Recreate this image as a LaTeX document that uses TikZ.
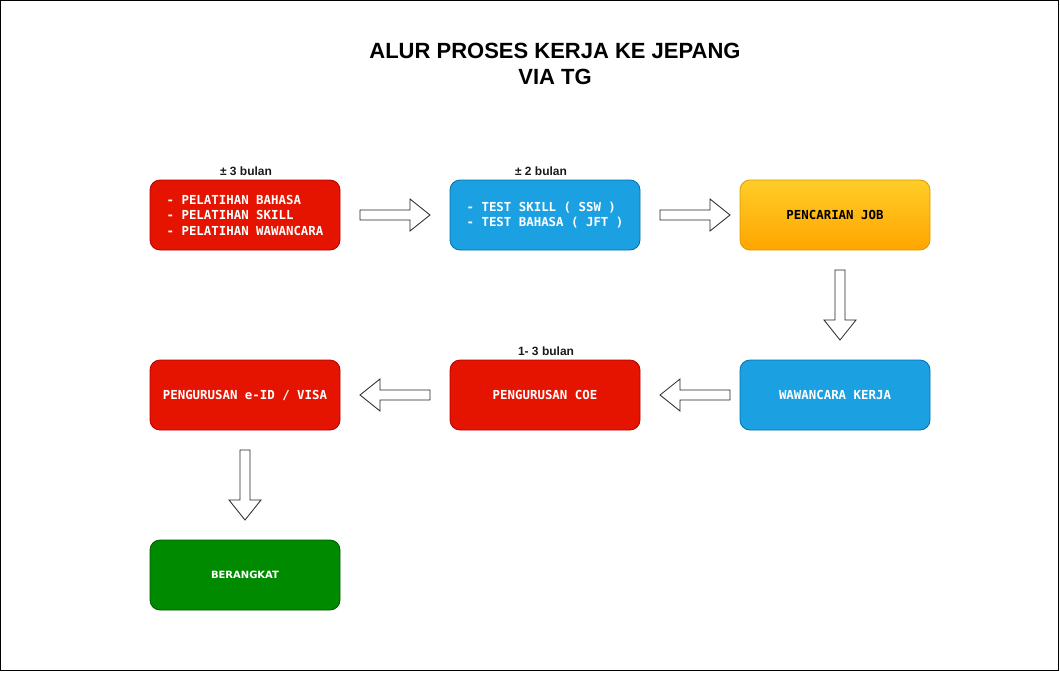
\documentclass[tikz,border=0pt]{standalone}
\usepackage{fontspec}
\setmainfont{Liberation Sans}
\newfontfamily\monob{DejaVu Sans Mono}
\newfontfamily\dvs{DejaVu Sans}
\usetikzlibrary{calc}
\definecolor{redf}{HTML}{E51400}
\definecolor{redd}{HTML}{B20000}
\definecolor{bluef}{HTML}{1BA1E2}
\definecolor{blued}{HTML}{006EAF}
\definecolor{orat}{HTML}{FFCD28}
\definecolor{orab}{HTML}{FFA500}
\definecolor{orad}{HTML}{D79B00}
\definecolor{greenf}{HTML}{008A00}
\definecolor{greend}{HTML}{005700}
\definecolor{lbl}{HTML}{1A1A1A}
\tikzset{
  box/.style={rounded corners=10pt, minimum width=190pt, minimum height=70pt, inner sep=0pt, line width=0.8pt, align=left, font=\monob\bfseries\fontsize{12.4}{15.5}\selectfont, text=white},
  redbox/.style={box, fill=redf, draw=redd},
  bluebox/.style={box, fill=bluef, draw=blued},
  orabox/.style={box, top color=orat, bottom color=orab, draw=orad, text=black},
  greenbox/.style={box, fill=greenf, draw=greend, font=\dvs\bfseries\fontsize{10}{12}\selectfont},
  lab/.style={font=\bfseries\fontsize{12}{14}\selectfont, text=lbl, inner sep=0pt},
  arr/.style={draw=black!85, fill=white, line width=0.8pt, line join=miter},
  pics/rarrow/.style={code={\draw[arr] (-35,-5) -- (15,-5) -- (15,-16) -- (35,0) -- (15,16) -- (15,5) -- (-35,5) -- cycle;}},
  pics/larrow/.style={code={\draw[arr] (35,-5) -- (-15,-5) -- (-15,-16) -- (-35,0) -- (-15,16) -- (-15,5) -- (35,5) -- cycle;}},
  pics/darrow/.style={code={\draw[arr] (-5,-35) -- (-5,15) -- (-16,15) -- (0,35) -- (16,15) -- (5,15) -- (5,-35) -- cycle;}},
}
\begin{document}
\begin{tikzpicture}[x=1pt, y=-1pt]
\useasboundingbox (0,0) rectangle (1060,672);
\draw[line width=1.2pt, black] (0.6,0.6) rectangle (1058.6,670.6);

\node[font=\bfseries\fontsize{22}{26}\selectfont, align=center, inner sep=0pt] (title) at (555,64) {ALUR PROSES KERJA KE JEPANG\\VIA TG};

\node[redbox] (b1) at (245,215) {- PELATIHAN BAHASA\\- PELATIHAN SKILL\\- PELATIHAN WAWANCARA};
\node[bluebox] (b2) at (545,215) {- TEST SKILL ( SSW )\\- TEST BAHASA ( JFT )};
\node[orabox] (b3) at (835,215) {PENCARIAN JOB};
\node[bluebox] (b4) at (835,395) {WAWANCARA KERJA};
\node[redbox] (b5) at (545,395) {PENGURUSAN COE};
\node[redbox] (b6) at (245,395) {PENGURUSAN e-ID / VISA};
\node[greenbox] (b7) at (245,575) {BERANGKAT};

\node[lab] (l1) at (246,171) {± 3 bulan};
\node[lab] (l2) at (541,171) {± 2 bulan};
\node[lab] (l3) at (546,351) {1- 3 bulan};

\pic at ($(b1.east)!0.5!(b2.west)$) {rarrow};
\pic at ($(b2.east)!0.5!(b3.west)+(5,0)$) {rarrow};
\pic at ($(b3.south)!0.5!(b4.north)+(5,0)$) {darrow};
\pic at ($(b4.west)!0.5!(b5.east)+(5,0)$) {larrow};
\pic at ($(b5.west)!0.5!(b6.east)$) {larrow};
\pic at ($(b6.south)!0.5!(b7.north)$) {darrow};
\end{tikzpicture}
\end{document}
